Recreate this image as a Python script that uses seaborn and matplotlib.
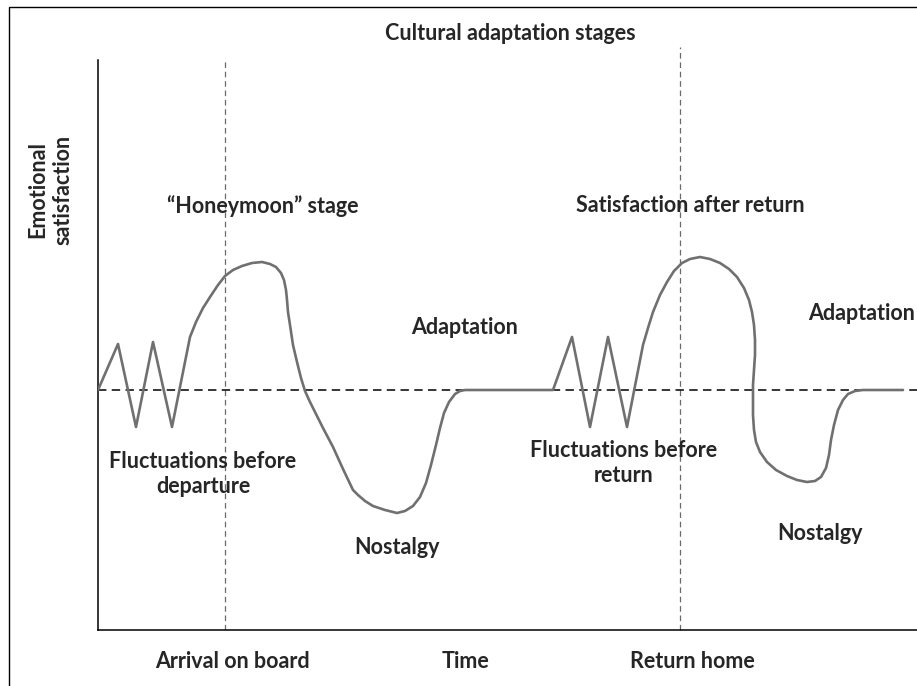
import matplotlib
matplotlib.use("Agg")
import matplotlib.pyplot as plt
import seaborn as sns
import pandas as pd
from matplotlib.patches import Rectangle

sns.set_style("white")
plt.rcParams['font.family'] = ['Lato', 'DejaVu Sans']

# Curve: time position and emotional satisfaction
# (satisfaction relative to the neutral baseline, positive = up)
curve_time = [98, 118, 136, 153, 172,
              190, 196, 203, 210, 218, 225, 233, 242, 252, 262, 270, 276, 281, 284,
              286, 287, 288, 290, 293, 297, 301, 305, 310, 316, 323, 333, 343, 353, 358,
              365, 373, 385, 397, 405, 413, 420, 426, 431, 436, 440, 444, 449, 455,
              460, 465, 553,
              572, 590, 608, 627,
              643, 648, 653, 660, 667, 674, 682, 690, 700, 710, 720, 729, 737, 744,
              749, 752, 754, 755, 755, 754, 753, 753, 753, 754, 756, 760, 767, 776,
              787, 797, 807, 815, 821, 826, 829, 831, 834, 838, 843, 848, 855, 863,
              903]
curve_sat = [0, 46, -37, 48, -37,
             53, 68, 82, 93, 105, 114, 120, 124, 127, 128, 126, 123, 117, 110,
             100, 90, 78, 65, 45, 28, 12, -1, -12, -24, -38, -57, -79, -100, -105,
             -111, -116, -120, -123, -121, -116, -107, -93, -75, -55, -38, -23, -12, -4,
             -1, 0, 0,
             53, -37, 53, -37,
             45, 62, 78, 95, 108, 119, 127, 131, 133, 131, 127, 121, 113, 102,
             90, 78, 65, 50, 35, 20, 5, -10, -25, -40, -52, -62, -72, -80,
             -86, -90, -92, -91, -87, -78, -65, -50, -35, -20, -10, -4, -1, 0,
             0]

baseline = 0
stage_marks = [225, 680]          # Arrival on board, Return home
x_range = (98, 917)
y_range = (-240, 330)

title = "Cultural adaptation stages"
y_label = "Emotional\nsatisfaction"
bottom_labels = ["Arrival on board", "Time", "Return home"]
bottom_label_x = [232, 465, 692]

annotations = [
    ("\u201cHoneymoon\u201d stage", 263, 184),
    ("Satisfaction after return", 690, 184),
    ("Adaptation", 465, 63),
    ("Adaptation", 862, 76),
    ("Fluctuations before\ndeparture", 203, -84),
    ("Fluctuations before\nreturn", 624, -73),
    ("Nostalgy", 397, -157),
    ("Nostalgy", 820, -143),
]

W, H = 917, 686
fig = plt.figure(figsize=(W / 100, H / 100), dpi=100)
ax = fig.add_axes([98 / W, (H - 630) / H, (917 - 98) / W, (630 - 60) / H])

df = pd.DataFrame({"time": curve_time, "sat": curve_sat})
sns.lineplot(data=df, x="time", y="sat", sort=False, estimator=None,
             color="#707070", linewidth=1.9, ax=ax, zorder=3)
ax.lines[-1].set_solid_joinstyle("round")

ax.axhline(baseline, color="black", linestyle=(0, (5.5, 3.5)), linewidth=1.1, zorder=2)
ax.axvline(stage_marks[0], color="#6a6a6a", linestyle=(0, (4.5, 3)), linewidth=0.9,
           ymin=0, ymax=1, zorder=1)
ax.axvline(stage_marks[1], color="#6a6a6a", linestyle=(0, (4.5, 3)), linewidth=0.9,
           ymin=0, ymax=(630 - 47) / (630 - 60), clip_on=False, zorder=1)

ax.set_xlim(*x_range)
ax.set_ylim(*y_range)
ax.set_xticks([])
ax.set_yticks([])
ax.set_xlabel("")
ax.set_ylabel("")
for s in ["top", "right"]:
    ax.spines[s].set_visible(False)
for s in ["left", "bottom"]:
    ax.spines[s].set_color("black")
    ax.spines[s].set_linewidth(1.1)

fs = 15.5
for txt, x, y in annotations:
    ax.text(x, y, txt, ha="center", va="center", fontsize=fs, fontweight="bold",
            linespacing=1.25, clip_on=False)

fig.text(510 / W, 1 - 33 / H, title, ha="center", va="center", fontsize=fs,
         fontweight="bold")
fig.text(50 / W, 1 - 190 / H, y_label, ha="center", va="center", rotation=90,
         fontsize=fs, fontweight="bold", linespacing=1.25)
for lab, x in zip(bottom_labels, bottom_label_x):
    fig.text(x / W, 1 - 662 / H, lab, ha="center", va="center", fontsize=fs,
             fontweight="bold")

fig.patches.append(Rectangle((9 / W, -0.1), 1.2, 1.1 - 7 / H, transform=fig.transFigure,
                             fill=False, edgecolor="black", linewidth=1.0))

fig.savefig("out.png", dpi=100)
